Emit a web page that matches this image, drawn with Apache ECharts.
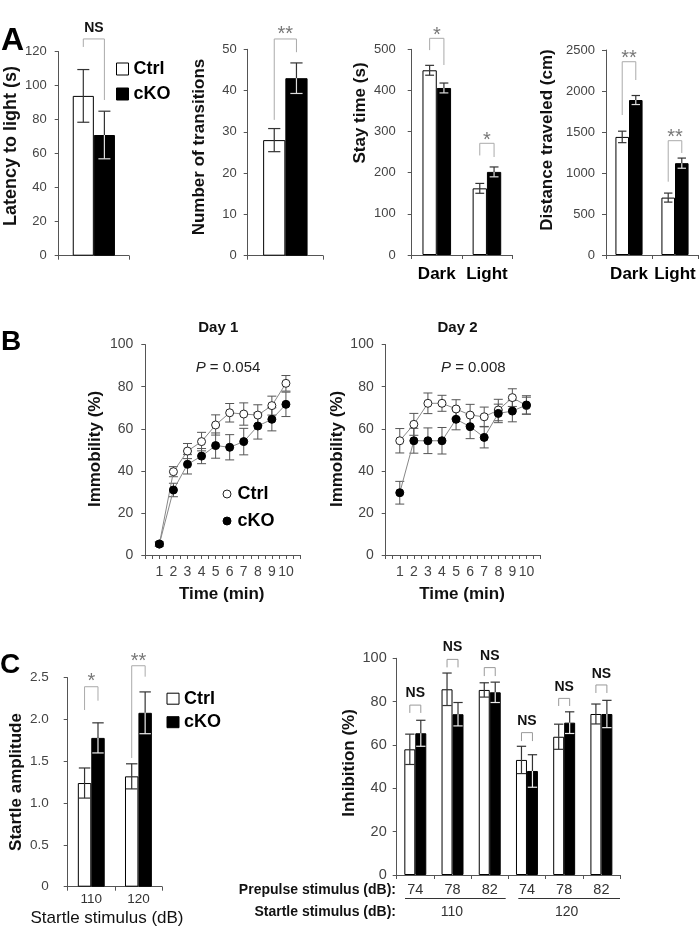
<!DOCTYPE html>
<html><head><meta charset="utf-8">
<script src="https://cdn.jsdelivr.net/npm/echarts@6/dist/echarts.min.js"></script>
<style>html,body{margin:0;padding:0;background:#fff}#c{width:700px;height:928px}</style>
</head><body><div id="c"></div>
<script>
// ---------------- data ----------------
const latencyCats = [''];
const latencyCtrl = [94], latencyCtrlErr = [15.5];
const latencyCko = [71], latencyCkoErr = [14];

const transCats = [''];
const transCtrl = [28], transCtrlErr = [2.8];
const transCko = [43], transCkoErr = [3.7];

const stayCats = ['Dark', 'Light'];
const stayCtrl = [449, 162], stayCtrlErr = [12, 12];
const stayCko = [406, 202], stayCkoErr = [12, 12];

const distCats = ['Dark', 'Light'];
const distCtrl = [1440, 700], distCtrlErr = [70, 55];
const distCko = [1890, 1120], distCkoErr = [55, 62];

const timeMin = [1, 2, 3, 4, 5, 6, 7, 8, 9, 10];
const day1Ctrl = [5.2, 39.6, 49.4, 53.9, 61.8, 67.6, 67, 66.5, 71, 81.6];
const day1CtrlErr = [1, 2.4, 3.6, 4.4, 4.8, 4.4, 5.3, 4.9, 4.5, 3.7];
const day1Cko = [5.2, 30.9, 43.1, 47, 52, 51.2, 53.9, 61.3, 64.5, 71.6];
const day1CkoErr = [1, 3.2, 4.6, 3.6, 6, 6, 6.3, 6.2, 5.5, 5.8];
const day2Ctrl = [54.3, 62.1, 72.1, 72.1, 69.4, 66.5, 65.7, 68.9, 74.8, 71];
const day2CtrlErr = [5.8, 5.2, 4.9, 3.8, 4.4, 5.1, 4.6, 5.1, 4.2, 4];
const day2Cko = [29.6, 54.3, 54.3, 54.3, 64.5, 61, 55.9, 67.3, 68.4, 71.3];
const day2CkoErr = [5.4, 5.9, 6.1, 6.3, 5, 5.7, 5, 4.4, 5.1, 4.4];

const startleCats = ['110', '120'];
const startleCtrl = [1.24, 1.32], startleCtrlErr = [0.18, 0.15];
const startleCko = [1.78, 2.08], startleCkoErr = [0.18, 0.25];

const ppiCats = ['74', '78', '82', '74', '78', '82'];
const ppiCtrl = [58, 85.7, 85.4, 53.1, 63.8, 74.3];
const ppiCtrlErr = [7, 7.5, 3.3, 6.3, 5.8, 4.6];
const ppiCko = [65.4, 74.2, 84.3, 48, 70.3, 74.3];
const ppiCkoErr = [6, 5.4, 4.7, 7.5, 5, 6.3];
const ppiStartle = ['110', '120'];

// significance: [category index, label, bracket top, left leg end, right leg end, label level]
const latencySig = [[0, 'NS', 127.5, 122.8, 91.6, 133.9]];
const transSig = [[0, '**', 52.5, 32.9, 49.3, 54.9]];
const staySig = [[0, '*', 526.7, 498, 461.8, 545], [1, '*', 271.5, 241.9, 238.2, 291.7]];
const distSig = [[0, '**', 2357, 1707, 2134, 2463], [1, '**', 1394, 894, 1244, 1488]];
const startleSig = [[0, '*', 2.392, 2.114, 2.225, 2.512], [1, '**', 2.643, 1.539, 2.512, 2.751]];
const ppiSig = [[0, 'NS', 78.4, 74.8, 74.8, 83.9], [1, 'NS', 99.5, 95.8, 95.8, 105.1],
  [2, 'NS', 95.7, 91.8, 91.8, 101.1], [3, 'NS', 65.7, 61.8, 61.8, 71.2],
  [4, 'NS', 81.5, 78, 78, 86.9], [5, 'NS', 87.7, 84, 84, 92.8]];

// ---------------- helpers ----------------
const FF = '"Liberation Sans", Arial, Helvetica, sans-serif';
const AX = '#555';
const plain = v => String(v);

function catX(i, data, fs, color, weight, margin) {
  return {type: 'category', gridIndex: i, data: data,
    axisLine: {show: true, lineStyle: {color: AX, width: 1}},
    axisTick: {show: true, length: 4, alignWithLabel: false, lineStyle: {color: AX}},
    axisLabel: {show: true, fontSize: fs, color: color, fontWeight: weight, fontFamily: FF, margin: margin, interval: 0},
    splitLine: {show: false}};
}
function valY(i, max, interval, fs, margin, fmt) {
  return {type: 'value', gridIndex: i, min: 0, max: max, interval: interval,
    axisLine: {show: true, lineStyle: {color: AX, width: 1}},
    axisTick: {show: true, length: 4, lineStyle: {color: AX}},
    axisLabel: {fontSize: fs, color: '#444', fontFamily: FF, margin: margin, formatter: fmt || plain},
    splitLine: {show: false}};
}
function barPair(i, ctrl, cko, gap) {
  const g = (gap * 100) + '%';
  return [
    {type: 'bar', name: 'Ctrl', xAxisIndex: i, yAxisIndex: i, data: ctrl, barGap: '0%', barCategoryGap: g,
      itemStyle: {color: '#fff', borderColor: '#000', borderWidth: 1}, z: 2},
    {type: 'bar', name: 'cKO', xAxisIndex: i, yAxisIndex: i, data: cko, barGap: '0%', barCategoryGap: g,
      itemStyle: {color: '#000', borderColor: '#000', borderWidth: 1}, z: 2}
  ];
}
function errBars(i, vals, errs, gap, side, capRatio, lowerColor) {
  return {type: 'custom', xAxisIndex: i, yAxisIndex: i, z: 4, clip: false,
    data: vals.map((v, k) => [k, v, errs[k]]),
    renderItem: function (params, api) {
      const x = api.value(0), v = api.value(1), e = api.value(2);
      const band = api.size([1, 0])[0];
      const bw = band * (1 - gap) / 2;
      const p = api.coord([x, v]);
      const cx = p[0] + side * bw / 2;
      const yv = p[1], yt = api.coord([x, v + e])[1], yb = api.coord([x, v - e])[1];
      const h = bw * capRatio / 2;
      const up = {stroke: '#333', lineWidth: 1.2};
      const lo = {stroke: lowerColor, lineWidth: 1.2};
      return {type: 'group', children: [
        {type: 'line', shape: {x1: cx, y1: yv, x2: cx, y2: yt}, style: up},
        {type: 'line', shape: {x1: cx - h, y1: yt, x2: cx + h, y2: yt}, style: up},
        {type: 'line', shape: {x1: cx, y1: yv, x2: cx, y2: yb}, style: lo},
        {type: 'line', shape: {x1: cx - h, y1: yb, x2: cx + h, y2: yb}, style: lo}
      ]};
    }};
}
function sigMarks(i, sig, gap, fs, weight, color, dy, stroke) {
  return {type: 'custom', xAxisIndex: i, yAxisIndex: i, z: 4, clip: false,
    data: sig.map(d => [d[0], d[2]]),
    renderItem: function (params, api) {
      const d = sig[params.dataIndex];
      const band = api.size([1, 0])[0];
      const bw = band * (1 - gap) / 2;
      const c = api.coord([d[0], d[2]]);
      const xl = c[0] - bw / 2, xr = c[0] + bw / 2;
      const yl = api.coord([d[0], d[3]])[1], yr = api.coord([d[0], d[4]])[1];
      const ylab = api.coord([d[0], d[5]])[1];
      return {type: 'group', children: [
        {type: 'polyline', shape: {points: [[xl, yl], [xl, c[1]], [xr, c[1]], [xr, yr]]},
          style: {stroke: stroke, fill: null, lineWidth: 1}},
        {type: 'text', x: c[0], y: ylab + dy,
          style: {text: d[1], fontSize: fs, fontWeight: weight, fontFamily: FF, fill: color,
            textAlign: 'center', textVerticalAlign: 'middle'}}
      ]};
    }};
}
function lineErr(i, xs, vals, errs) {
  return {type: 'custom', xAxisIndex: i, yAxisIndex: i, z: 1, clip: false,
    data: xs.map((t, k) => [t, vals[k], errs[k]]),
    renderItem: function (params, api) {
      const x = api.value(0), v = api.value(1), e = api.value(2);
      const cx = api.coord([x, v])[0];
      const yt = api.coord([x, v + e])[1], yb = api.coord([x, v - e])[1];
      const h = 4.5, st = {stroke: '#555', lineWidth: 1};
      return {type: 'group', children: [
        {type: 'line', shape: {x1: cx, y1: yt, x2: cx, y2: yb}, style: st},
        {type: 'line', shape: {x1: cx - h, y1: yt, x2: cx + h, y2: yt}, style: st},
        {type: 'line', shape: {x1: cx - h, y1: yb, x2: cx + h, y2: yb}, style: st}
      ]};
    }};
}
function lineSeries(i, name, xs, vals, filled, z) {
  return {type: 'line', name: name, xAxisIndex: i, yAxisIndex: i, z: z,
    data: xs.map((t, k) => [t, vals[k]]),
    symbol: 'circle', symbolSize: 8, showSymbol: true,
    lineStyle: {color: '#888', width: 1},
    itemStyle: filled ? {color: '#000', borderColor: '#000', borderWidth: 1}
                      : {color: '#fff', borderColor: '#222', borderWidth: 1}};
}
function timeX(i) {
  return {type: 'value', gridIndex: i, min: 0, max: 11, interval: 0.5,
    axisLine: {show: true, lineStyle: {color: AX}},
    axisTick: {show: true, length: 4, lineStyle: {color: AX}},
    axisLabel: {fontSize: 14, color: '#444', fontFamily: FF, margin: 10,
      formatter: v => (v >= 1 && v <= 10 && Math.abs(v - Math.round(v)) < 1e-6) ? String(Math.round(v)) : ''},
    splitLine: {show: false}};
}
function txt(x, y, s, fs, weight, align, fill) {
  return {type: 'text', x: x, y: y, silent: true,
    style: {text: s, fontSize: fs, fontWeight: weight, fontFamily: FF, fill: fill || '#111',
      textAlign: align || 'center', textVerticalAlign: 'middle'}};
}
function letter(x, y, s, fs) {
  return {type: 'text', x: x, y: y, silent: true,
    style: {text: s, fontSize: fs, fontWeight: 'bold', fontFamily: FF, fill: '#000',
      textAlign: 'left', textVerticalAlign: 'alphabetic'}};
}
function vtxt(x, y, s, fs) {
  return {type: 'text', x: x, y: y, rotation: Math.PI / 2, silent: true,
    style: {text: s, fontSize: fs, fontWeight: 'bold', fontFamily: FF, fill: '#111',
      textAlign: 'center', textVerticalAlign: 'middle'}};
}
function ptxt(x, y, val) {
  return {type: 'text', x: x, y: y, silent: true,
    style: {text: '{i|P} = ' + val, fontSize: 15, fontFamily: FF, fill: '#222', textAlign: 'center', textVerticalAlign: 'middle',
      rich: {i: {fontStyle: 'italic', fontSize: 15, fontFamily: FF, fill: '#222'}}}};
}

// ---------------- option ----------------
const gaps = {a1: 0.40, a2: 0.41, a3: 0.43, a4: 0.41, c1: 0.43, c2: 0.41};
const grids = [
  {left: 58.7, top: 51.7, width: 70.3, height: 204},
  {left: 247.7, top: 49.3, width: 75.3, height: 206.4},
  {left: 411.7, top: 49.3, width: 100.3, height: 205.7},
  {left: 606, top: 50, width: 92, height: 205},
  {left: 145.3, top: 344.6, width: 154.7, height: 210.4},
  {left: 385.7, top: 344.6, width: 154.8, height: 210.4},
  {left: 67.7, top: 677.7, width: 94.3, height: 209},
  {left: 396.7, top: 658.3, width: 223.3, height: 216.7}
].map(g => Object.assign({outerBoundsMode: 'none', containLabel: false}, g));

const xAxes = [
  catX(0, latencyCats, 13, '#444', 'normal', 8),
  catX(1, transCats, 13, '#444', 'normal', 8),
  catX(2, stayCats, 17, '#000', 'bold', 11),
  catX(3, distCats, 17, '#000', 'bold', 11),
  timeX(4),
  timeX(5),
  catX(6, startleCats, 13.5, '#333', 'normal', 6),
  catX(7, ppiCats, 14.5, '#333', 'normal', 7.5)
];
const yAxes = [
  valY(0, 120, 20, 13, 12),
  valY(1, 50, 10, 13, 11),
  valY(2, 500, 100, 13, 16),
  valY(3, 2500, 500, 13, 11),
  valY(4, 100, 20, 14, 12),
  valY(5, 100, 20, 14, 12),
  valY(6, 2.5, 0.5, 13.5, 19, v => v === 0 ? '0' : v.toFixed(1)),
  valY(7, 100, 20, 14.5, 10)
];

const STAR = {fs: 20, w: 'normal', c: '#777', dy: 5, s: '#aaa'};
const NS = {fs: 14, w: 'bold', c: '#111', dy: 0, s: '#aaa'};

const series = [].concat(
  barPair(0, latencyCtrl, latencyCko, gaps.a1),
  [errBars(0, latencyCtrl, latencyCtrlErr, gaps.a1, -1, 0.57, '#333'),
   errBars(0, latencyCko, latencyCkoErr, gaps.a1, 1, 0.57, '#ddd'),
   sigMarks(0, latencySig, gaps.a1, NS.fs, NS.w, NS.c, NS.dy, NS.s)],
  barPair(1, transCtrl, transCko, gaps.a2),
  [errBars(1, transCtrl, transCtrlErr, gaps.a2, -1, 0.55, '#333'),
   errBars(1, transCko, transCkoErr, gaps.a2, 1, 0.55, '#ddd'),
   sigMarks(1, transSig, gaps.a2, STAR.fs, STAR.w, STAR.c, STAR.dy, STAR.s)],
  barPair(2, stayCtrl, stayCko, gaps.a3),
  [errBars(2, stayCtrl, stayCtrlErr, gaps.a3, -1, 0.62, '#333'),
   errBars(2, stayCko, stayCkoErr, gaps.a3, 1, 0.62, '#ddd'),
   sigMarks(2, staySig, gaps.a3, STAR.fs, STAR.w, STAR.c, STAR.dy, STAR.s)],
  barPair(3, distCtrl, distCko, gaps.a4),
  [errBars(3, distCtrl, distCtrlErr, gaps.a4, -1, 0.62, '#333'),
   errBars(3, distCko, distCkoErr, gaps.a4, 1, 0.62, '#ddd'),
   sigMarks(3, distSig, gaps.a4, STAR.fs, STAR.w, STAR.c, STAR.dy, STAR.s)],
  [lineErr(4, timeMin, day1Ctrl, day1CtrlErr), lineErr(4, timeMin, day1Cko, day1CkoErr),
   lineSeries(4, 'Ctrl', timeMin, day1Ctrl, false, 2), lineSeries(4, 'cKO', timeMin, day1Cko, true, 3),
   lineErr(5, timeMin, day2Ctrl, day2CtrlErr), lineErr(5, timeMin, day2Cko, day2CkoErr),
   lineSeries(5, 'Ctrl', timeMin, day2Ctrl, false, 2), lineSeries(5, 'cKO', timeMin, day2Cko, true, 3)],
  barPair(6, startleCtrl, startleCko, gaps.c1),
  [errBars(6, startleCtrl, startleCtrlErr, gaps.c1, -1, 0.85, '#333'),
   errBars(6, startleCko, startleCkoErr, gaps.c1, 1, 0.85, '#eee'),
   sigMarks(6, startleSig, gaps.c1, STAR.fs, STAR.w, STAR.c, STAR.dy, STAR.s)],
  barPair(7, ppiCtrl, ppiCko, gaps.c2),
  [errBars(7, ppiCtrl, ppiCtrlErr, gaps.c2, -1, 0.85, '#333'),
   errBars(7, ppiCko, ppiCkoErr, gaps.c2, 1, 0.85, '#eee'),
   sigMarks(7, ppiSig, gaps.c2, NS.fs, NS.w, NS.c, NS.dy, '#999')]
);

const legTxt = {fontSize: 18, fontWeight: 'bold', color: '#000', fontFamily: FF};
const legends = [
  {left: 116, top: 60, orient: 'vertical', padding: 0, itemWidth: 12, itemHeight: 12, itemGap: 7,
    selectedMode: false, textStyle: legTxt,
    data: [{name: 'Ctrl', icon: 'rect', itemStyle: {color: '#fff', borderColor: '#000', borderWidth: 1}},
           {name: 'cKO', icon: 'rect', itemStyle: {color: '#000', borderColor: '#000', borderWidth: 1}}]},
  {left: 222.5, top: 485, orient: 'vertical', padding: 0, itemWidth: 11, itemHeight: 8, itemGap: 9,
    selectedMode: false, textStyle: legTxt,
    data: [{name: 'Ctrl', icon: 'circle', itemStyle: {color: '#fff', borderColor: '#222', borderWidth: 1}},
           {name: 'cKO', icon: 'circle', itemStyle: {color: '#000', borderColor: '#000', borderWidth: 1}}]},
  {left: 166.5, top: 689.7, orient: 'vertical', padding: 0, itemWidth: 12, itemHeight: 11, itemGap: 5.5,
    selectedMode: false, textStyle: legTxt,
    data: [{name: 'Ctrl', icon: 'rect', itemStyle: {color: '#fff', borderColor: '#000', borderWidth: 1}},
           {name: 'cKO', icon: 'rect', itemStyle: {color: '#000', borderColor: '#000', borderWidth: 1}}]}
];

const graphics = [
  letter(1, 25, 'A', 32),
  letter(1, 328, 'B', 28),
  letter(0, 651, 'C', 28),
  vtxt(11, 146, 'Latency to light (s)', 18),
  vtxt(199, 147, 'Number of transitions', 17),
  vtxt(360, 113, 'Stay time (s)', 17),
  vtxt(547.5, 140, 'Distance traveled (cm)', 17),
  vtxt(95, 449, 'Immobility (%)', 17),
  vtxt(337, 449, 'Immobility (%)', 17),
  vtxt(16.5, 782, 'Startle amplitude', 17),
  vtxt(349, 763, 'Inhibition (%)', 17),
  txt(221.7, 594, 'Time (min)', 17, 'bold'),
  txt(462, 594, 'Time (min)', 17, 'bold'),
  txt(218.3, 328, 'Day 1', 15, 'bold'),
  txt(457.5, 328, 'Day 2', 15, 'bold'),
  ptxt(228, 368, '0.054'),
  ptxt(473.3, 368, '0.008'),
  txt(107, 918.5, 'Startle stimulus (dB)', 17, 'normal'),
  txt(396, 890, 'Prepulse stimulus (dB):', 14, 'bold', 'right'),
  txt(396, 912, 'Startle stimulus (dB):', 14, 'bold', 'right'),
  {type: 'line', silent: true, shape: {x1: 405, y1: 898.5, x2: 505.7, y2: 898.5}, style: {stroke: '#333', lineWidth: 1}},
  {type: 'line', silent: true, shape: {x1: 518.3, y1: 898.5, x2: 620, y2: 898.5}, style: {stroke: '#333', lineWidth: 1}},
  txt(452, 912, ppiStartle[0], 14, 'normal', 'center', '#333'),
  txt(566.7, 912, ppiStartle[1], 14, 'normal', 'center', '#333')
];

const chart = echarts.init(document.getElementById('c'), null, {renderer: 'canvas'});
chart.setOption({
  backgroundColor: '#fff',
  animation: false,
  textStyle: {fontFamily: FF},
  grid: grids,
  xAxis: xAxes,
  yAxis: yAxes,
  legend: legends,
  tooltip: {show: false},
  series: series,
  graphic: graphics
});
</script>
</body></html>
